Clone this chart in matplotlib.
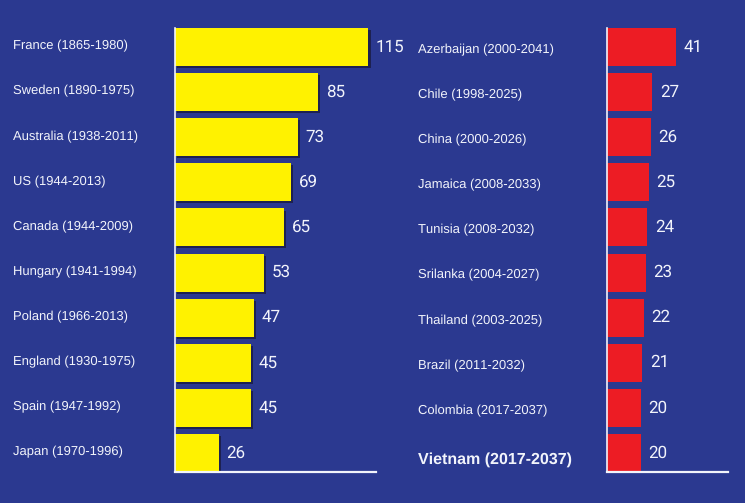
import matplotlib
matplotlib.use("Agg")
import matplotlib.pyplot as plt
import matplotlib.patheffects as pe

plt.rcParams['font.family'] = ['Liberation Sans', 'DejaVu Sans']
plt.rcParams['text.hinting_factor'] = 1
plt.rcParams['text.hinting'] = 'no_hinting'

left_labels = ["France (1865-1980)", "Sweden (1890-1975)", "Australia (1938-2011)",
               "US (1944-2013)", "Canada (1944-2009)", "Hungary (1941-1994)",
               "Poland (1966-2013)", "England (1930-1975)", "Spain (1947-1992)",
               "Japan (1970-1996)"]
left_values = [115, 85, 73, 69, 65, 53, 47, 45, 45, 26]

right_labels = ["Azerbaijan (2000-2041)", "Chile (1998-2025)", "China (2000-2026)",
                "Jamaica (2008-2033)", "Tunisia (2008-2032)", "Srilanka (2004-2027)",
                "Thailand (2003-2025)", "Brazil (2011-2032)", "Colombia (2017-2037)",
                "Vietnam (2017-2037)"]
right_values = [41, 27, 26, 25, 24, 23, 22, 21, 20, 20]

BG = "#2b3990"
YELLOW = "#fff200"
RED = "#ed1c24"
WHITE = "#f2f4fb"

W, H = 745, 503
fig = plt.figure(figsize=(W / 100, H / 100), dpi=100, facecolor=BG)

def make_axes(x0, x1, y0, y1):
    return fig.add_axes([x0 / W, 1 - y1 / H, (x1 - x0) / W, (y1 - y0) / H])

bar_h = 0.84

def draw_panel(ax, labels, values, color, xmax, label_x, shadow, label_dy, bold_last=False):
    ax.set_facecolor(BG)
    pos = list(range(len(values)))
    bars = ax.barh(pos, values, height=bar_h, color=color, zorder=2)
    if shadow:
        for b in bars:
            b.set_path_effects([pe.SimplePatchShadow(offset=(1.5, -1.5), shadow_rgbFace="#1c1f4a", alpha=0.9), pe.Normal()])
    ax.set_xlim(0, xmax)
    ax.set_ylim(len(values) - 1 + bar_h / 2, -bar_h / 2)
    for s in ["top", "right"]:
        ax.spines[s].set_visible(False)
    ax.spines["left"].set_color(WHITE)
    ax.spines["left"].set_linewidth(1.2)
    ax.spines["bottom"].set_color(WHITE)
    ax.spines["bottom"].set_linewidth(1.6)
    ax.set_xticks([])
    ax.set_yticks([])
    for p, v in zip(pos, values):
        ax.annotate(str(v), (v, p), xytext=(5.5, 0), textcoords="offset points",
                    ha="left", va="center", color=WHITE, fontsize=12.5,
                    family=['Roboto', 'DejaVu Sans'])
    for i, (p, lab) in enumerate(zip(pos, labels)):
        last = bold_last and i == len(labels) - 1
        ax.annotate(lab, xy=(label_x / W, p), xycoords=("figure fraction", "data"),
                    xytext=(0, -4.5 if last else label_dy), textcoords="offset points",
                    ha="left", va="center", color=WHITE,
                    fontsize=11.6 if last else 9.55,
                    fontweight="bold" if last else "normal")

ax1 = make_axes(175, 376, 28, 472)
draw_panel(ax1, left_labels, left_values, YELLOW, 119.5, 13, True, 0.5)
ax2 = make_axes(607, 728, 28, 472)
draw_panel(ax2, right_labels, right_values, RED, 72, 418, False, -2.0, bold_last=True)

fig.savefig("out.png", dpi=100, facecolor=BG)
